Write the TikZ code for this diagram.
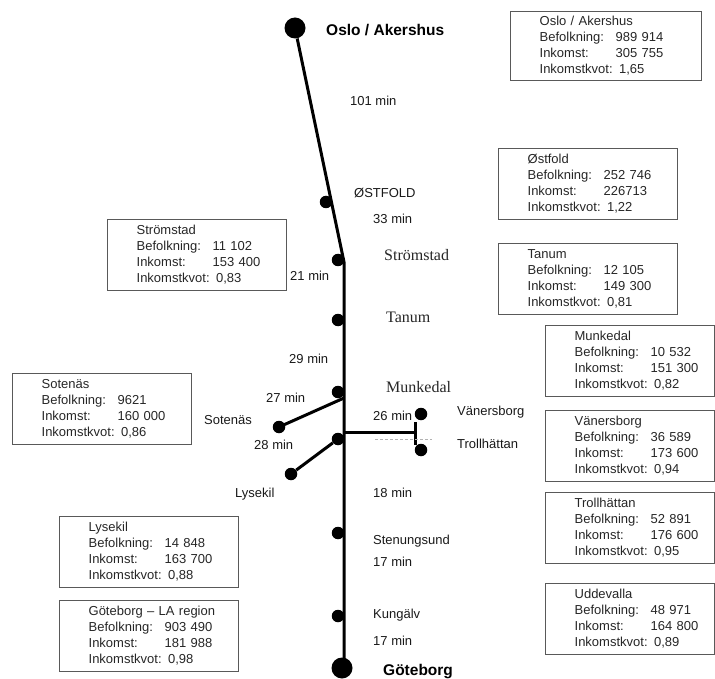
\documentclass[tikz,border=0pt]{standalone}
\usepackage{fontspec}
\setmainfont{Liberation Sans}
\newfontfamily\timesfont{Liberation Serif}
\usepackage{tikz}
\newcommand\kommun[4]{\begin{tabular}{@{\hspace{29pt}}l@{}}#1\\\makebox[76pt][l]{Befolkning:}#2\\\makebox[76pt][l]{Inkomst:}#3\\Inkomstkvot: #4\end{tabular}}

\begin{document}
\begin{tikzpicture}[x=1pt,y=-1pt,
  route/.style={line width=3pt,black},
  stop/.style={circle,fill=black,inner sep=0pt,minimum size=12.5pt},
  bigstop/.style={circle,fill=black,inner sep=0pt,minimum size=21pt},
  lbl/.style={anchor=base west,inner sep=0pt,font=\fontsize{13}{16}\selectfont,text=black!90},
  town/.style={anchor=base west,inner sep=0pt,font=\timesfont\fontsize{16}{19}\selectfont,text=black!85},
  city/.style={anchor=base west,inner sep=0pt,font=\bfseries\fontsize{15.5}{18}\selectfont,text=black},
  infobox/.style={draw=black!65,line width=1.3pt,anchor=north west,inner sep=0pt,minimum height=71pt,text width=#1,align=left,font=\fontsize{13}{16}\selectfont,text=black!85},
  infobox/.default=179pt]
\useasboundingbox (0,0) rectangle (715,679);
\coordinate (bend) at (344,262);
\coordinate (sotfork) at (344,398);
\coordinate (vfork) at (344,432);
\coordinate (vbar) at (415,432);
\coordinate (vtop) at (415,422);
\coordinate (vbot) at (415,445);
\coordinate (dashl) at (375,439);
\coordinate (dashr) at (432,439);
\coordinate (lineend) at (344,668);
\node[bigstop] (oslo) at (295,28) {};
\node[bigstop] (goteborg) at (342,668) {};
\draw[route] (oslo) -- (bend) -- (lineend);
\draw[route] (sotfork) -- (279,427) node[stop] (sotenas) {};
\draw[route] (vfork) -- (vbar);
\draw[route] (vtop) -- (vbot);
\draw[gray!60,line width=0.6pt,dash pattern=on 3pt off 2pt] (dashl) -- (dashr);
\node[stop] (ostfold) at (326,202) {};
\node[stop] (stromstad) at (338,260) {};
\node[stop] (tanum) at (338,320) {};
\node[stop] (munkedal) at (338,392) {};
\node[stop] (uddevalla) at (338,439) {};
\node[stop] (lysekil) at (291,474) {};
\node[stop] (vanersborg) at (421,414) {};
\node[stop] (trollhattan) at (421,450) {};
\node[stop] (stenungsund) at (338,533) {};
\node[stop] (kungalv) at (338,616) {};
\draw[route] (uddevalla) -- (lysekil);
\node[city] (osloname) at (326,36) {Oslo / Akershus};
\node[city] (gbgname) at (383,675) {Göteborg};
\node[lbl] (t101) at (350,106) {101 min};
\node[lbl] (ostfoldname) at (354,198) {ØSTFOLD};
\node[lbl] (t33) at (373,224) {33 min};
\node[town] (stromstadname) at (384,261) {Strömstad};
\node[lbl] (t21) at (290,280) {21 min};
\node[town] (tanumname) at (386,322) {Tanum};
\node[lbl] (t29) at (289,363) {29 min};
\node[town] (munkedalname) at (386,392) {Munkedal};
\node[lbl] (t27) at (266,402) {27 min};
\node[lbl] (sotenasname) at (204,424) {Sotenäs};
\node[lbl] (t26) at (373,420) {26 min};
\node[lbl] (vanersborgname) at (457,415) {Vänersborg};
\node[lbl] (trollhattanname) at (457,448) {Trollhättan};
\node[lbl] (t28) at (254,449) {28 min};
\node[lbl] (lysekilname) at (235,497) {Lysekil};
\node[lbl] (t18) at (373,497) {18 min};
\node[lbl] (stenungsundname) at (373,544) {Stenungsund};
\node[lbl] (t17a) at (373,566) {17 min};
\node[lbl] (kungalvname) at (373,618) {Kungälv};
\node[lbl] (t17b) at (373,645) {17 min};
\node[infobox=191pt,minimum height=69pt] (boxoslo) at (510,11) {\kommun{Oslo / Akershus}{989 914}{305 755}{1,65}};
\node[infobox] (boxostfold) at (498,148) {\kommun{Østfold}{252 746}{226713}{1,22}};
\node[infobox] (boxstromstad) at (107,219) {\kommun{Strömstad}{11 102}{153 400}{0,83}};
\node[infobox] (boxtanum) at (498,243) {\kommun{Tanum}{12 105}{149 300}{0,81}};
\node[infobox=169pt] (boxmunkedal) at (545,325) {\kommun{Munkedal}{10 532}{151 300}{0,82}};
\node[infobox] (boxsotenas) at (12,373) {\kommun{Sotenäs}{9621}{160 000}{0,86}};
\node[infobox=169pt] (boxvanersborg) at (545,410) {\kommun{Vänersborg}{36 589}{173 600}{0,94}};
\node[infobox=169pt] (boxtrollhattan) at (545,492) {\kommun{Trollhättan}{52 891}{176 600}{0,95}};
\node[infobox] (boxlysekil) at (59,516) {\kommun{Lysekil}{14 848}{163 700}{0,88}};
\node[infobox=169pt] (boxuddevalla) at (545,583) {\kommun{Uddevalla}{48 971}{164 800}{0,89}};
\node[infobox] (boxgoteborg) at (59,600) {\kommun{Göteborg -- LA region}{903 490}{181 988}{0,98}};
\end{tikzpicture}
\end{document}
